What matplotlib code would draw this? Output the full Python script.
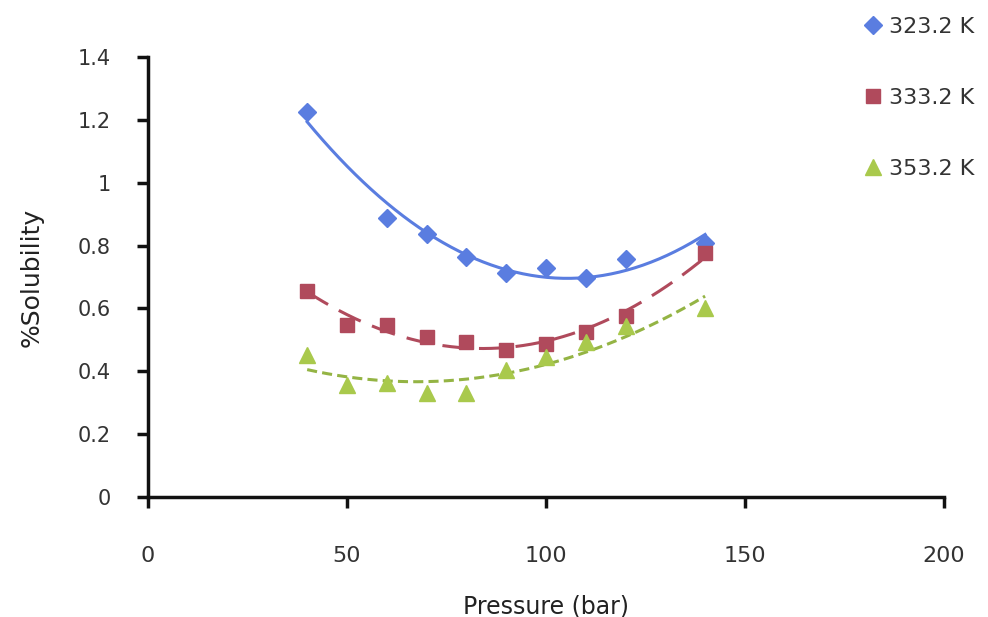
import numpy as np
import matplotlib
matplotlib.use("Agg")
from matplotlib import pyplot as plt
from matplotlib.lines import Line2D

# data
p_323 = [40, 60, 70, 80, 90, 100, 110, 120, 140]
s_323 = [1.225, 0.888, 0.837, 0.765, 0.713, 0.728, 0.697, 0.757, 0.808]

p_333 = [40, 50, 60, 70, 80, 90, 100, 110, 120, 140]
s_333 = [0.656, 0.547, 0.547, 0.508, 0.494, 0.468, 0.486, 0.526, 0.576, 0.777]

p_353 = [40, 50, 60, 70, 80, 90, 100, 110, 120, 140]
s_353 = [0.452, 0.356, 0.364, 0.332, 0.332, 0.404, 0.446, 0.494, 0.544, 0.600]

labels = ["323.2 K", "333.2 K", "353.2 K"]
x_ticks = [0, 50, 100, 150, 200]
y_ticks = [0, 0.2, 0.4, 0.6, 0.8, 1, 1.2, 1.4]
y_tick_labels = ["0", "0.2", "0.4", "0.6", "0.8", "1", "1.2", "1.4"]

blue = "#5a7de0"
red = "#b04a5c"
green = "#a9c94c"

fig = plt.figure(figsize=(9.88, 6.17), dpi=100)
ax = fig.add_axes([0.1498, 0.1945, 0.8055, 0.7131])

series = [
    (p_323, s_323, blue, "D", 9, "-", blue),
    (p_333, s_333, red, "s", 10, (0, (8, 4)), red),
    (p_353, s_353, green, "^", 11, (0, (3.3, 1.7)), "#94b444"),
]

handles = []
for (px, py, col, mk, ms, ls, lcol), lab in zip(series, labels):
    # 2nd order polynomial trend line like the original
    coef = np.polyfit(px, py, 2)
    xx = np.linspace(min(px), max(px), 200)
    ax.plot(xx, np.polyval(coef, xx), color=lcol, lw=2.2, linestyle=ls, zorder=2)
    ax.plot(px, py, linestyle="none", marker=mk, ms=ms, color=col, zorder=3)
    handles.append(Line2D([], [], linestyle="none", marker=mk, ms=ms, color=col, label=lab))

ax.set_xlim(0, 200)
ax.set_ylim(0, 1.4)
ax.set_xticks(x_ticks)
ax.set_yticks(y_ticks)
ax.set_yticklabels(y_tick_labels)

for side in ["top", "right"]:
    ax.spines[side].set_visible(False)
for side in ["left", "bottom"]:
    ax.spines[side].set_linewidth(2.5)
    ax.spines[side].set_color("#111111")

ax.tick_params(axis="both", direction="out", length=8, width=2.5, color="#111111",
               labelcolor="#333333")
ax.tick_params(axis="y", pad=19, labelsize=15)
ax.tick_params(axis="x", pad=27, labelsize=16)

ax.set_xlabel("Pressure (bar)", fontsize=17, color="#222222", labelpad=21)
ax.set_ylabel("%Solubility", fontsize=18, color="#222222", labelpad=24)

fig.legend(handles=handles, loc="upper left", bbox_to_anchor=(0.853, 1.005),
           frameon=False, fontsize=16, labelspacing=2.3, handletextpad=0.3,
           handlelength=0.9, labelcolor="#333333")

fig.savefig("out.png", dpi=100)
